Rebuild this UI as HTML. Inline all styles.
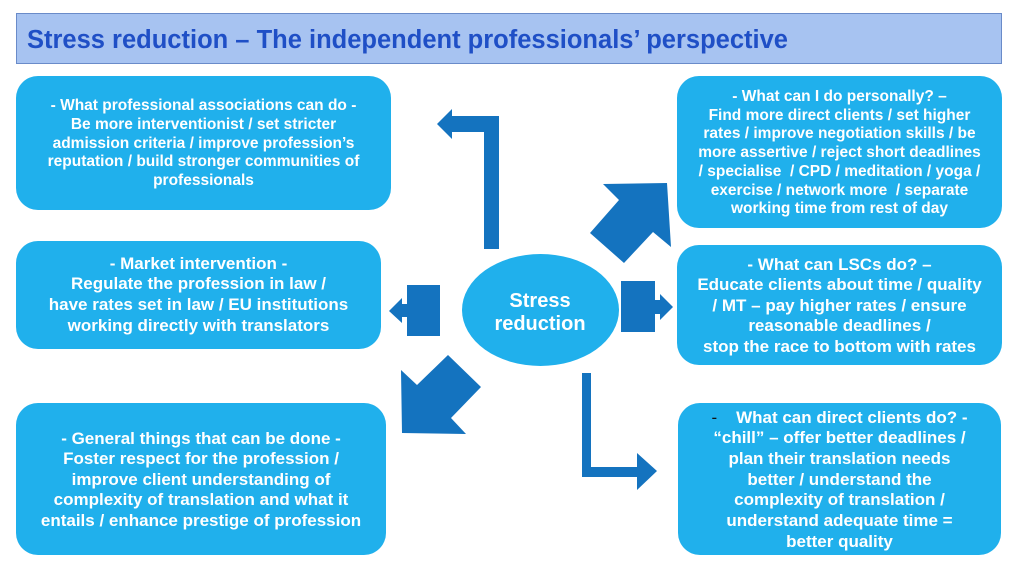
<!DOCTYPE html>
<html>
<head>
<meta charset="utf-8">
<style>
  html, body { margin:0; padding:0; }
  body { width:1024px; height:576px; position:relative; background:#ffffff; overflow:hidden;
         font-family:"Liberation Sans", Arial, sans-serif; }
  .title { position:absolute; left:16px; top:13px; width:986px; height:51px;
           background:#a7c3f1; border:1px solid #6a8bc9; box-sizing:border-box; }
  .title span { position:absolute; left:10px; top:12px; font-size:25.5px; font-weight:bold;
                color:#1f4fc6; line-height:28px; white-space:nowrap; }
  .box { position:absolute; background:#20b0ec; border-radius:22px; color:#ffffff; font-weight:bold;
         display:flex; align-items:center; justify-content:center; text-align:center; white-space:nowrap; box-sizing:border-box; }
  svg { position:absolute; left:0; top:0; }
</style>
</head>
<body>
<div class="title"><span>Stress reduction – The independent professionals’ perspective</span></div>

<div class="box" style="left:16px;top:76px;width:375px;height:134px;font-size:15.5px;line-height:18.7px;padding-top:2px;">
<div>- What professional associations can do -<br>Be more interventionist / set stricter<br>admission criteria / improve profession’s<br>reputation / build stronger communities of<br>professionals</div></div>

<div class="box" style="left:16px;top:241px;width:365px;height:108px;font-size:17px;line-height:20.6px;">
<div>- Market intervention -<br>Regulate the profession in law /<br>have rates set in law / EU institutions<br>working directly with translators</div></div>

<div class="box" style="left:16px;top:403px;width:370px;height:152px;font-size:17px;line-height:20.5px;padding-top:2px;">
<div>- General things that can be done -<br>Foster respect for the profession /<br>improve client understanding of<br>complexity of translation and what it<br>entails / enhance prestige of profession</div></div>

<div class="box" style="left:677px;top:76px;width:325px;height:152px;font-size:15.5px;line-height:18.8px;padding-top:3px;">
<div>- What can I do personally? –<br>Find more direct clients / set higher<br>rates / improve negotiation skills / be<br>more assertive / reject short deadlines<br>/ specialise &nbsp;/ CPD / meditation / yoga /<br>exercise / network more &nbsp;/ separate<br>working time from rest of day</div></div>

<div class="box" style="left:677px;top:245px;width:325px;height:120px;font-size:17px;line-height:20.6px;padding-top:2px;">
<div>- What can LSCs do? –<br>Educate clients about time / quality<br>/ MT – pay higher rates / ensure<br>reasonable deadlines /<br>stop the race to bottom with rates</div></div>

<div class="box" style="left:678px;top:403px;width:323px;height:152px;font-size:17px;line-height:20.7px;padding-top:2px;">
<div><span style="color:#111;font-weight:normal;">-</span>&nbsp;&nbsp;&nbsp;&nbsp;What can direct clients do? -<br>“chill” – offer better deadlines /<br>plan their translation needs<br>better / understand the<br>complexity of translation /<br>understand adequate time =<br>better quality</div></div>

<svg width="1024" height="576" viewBox="0 0 1024 576">
  <g fill="#1473bf">
    <polygon points="499,116 452,116 452,109 437,124 452,139 452,132 484,132 484,249 499,249"/>
    <polygon points="603,184 667,183 671,247 653,232 624,263 590,233 619,200"/>
    <polygon points="440,285 407,285 407,304 402,304 402,298 389,311 402,323 402,317 407,317 407,336 440,336"/>
    <polygon points="621,281 655,281 655,300 660,300 660,294 673,307 660,320 660,314 655,314 655,332 621,332"/>
    <polygon points="448,355 481,387 451,418 466,434 402,433 401,370 417,385"/>
    <polygon points="582,373 591,373 591,467 637,467 637,453 657,471 637,490 637,477 582,477"/>
  </g>
  <ellipse cx="540.5" cy="310" rx="78.5" ry="56" fill="#20b0ec"/>
  <g font-family="Liberation Sans, Arial, sans-serif" font-weight="bold" font-size="20" fill="#ffffff" text-anchor="middle">
    <text x="540" y="307">Stress</text>
    <text x="540" y="330">reduction</text>
  </g>
</svg>
</body>
</html>
